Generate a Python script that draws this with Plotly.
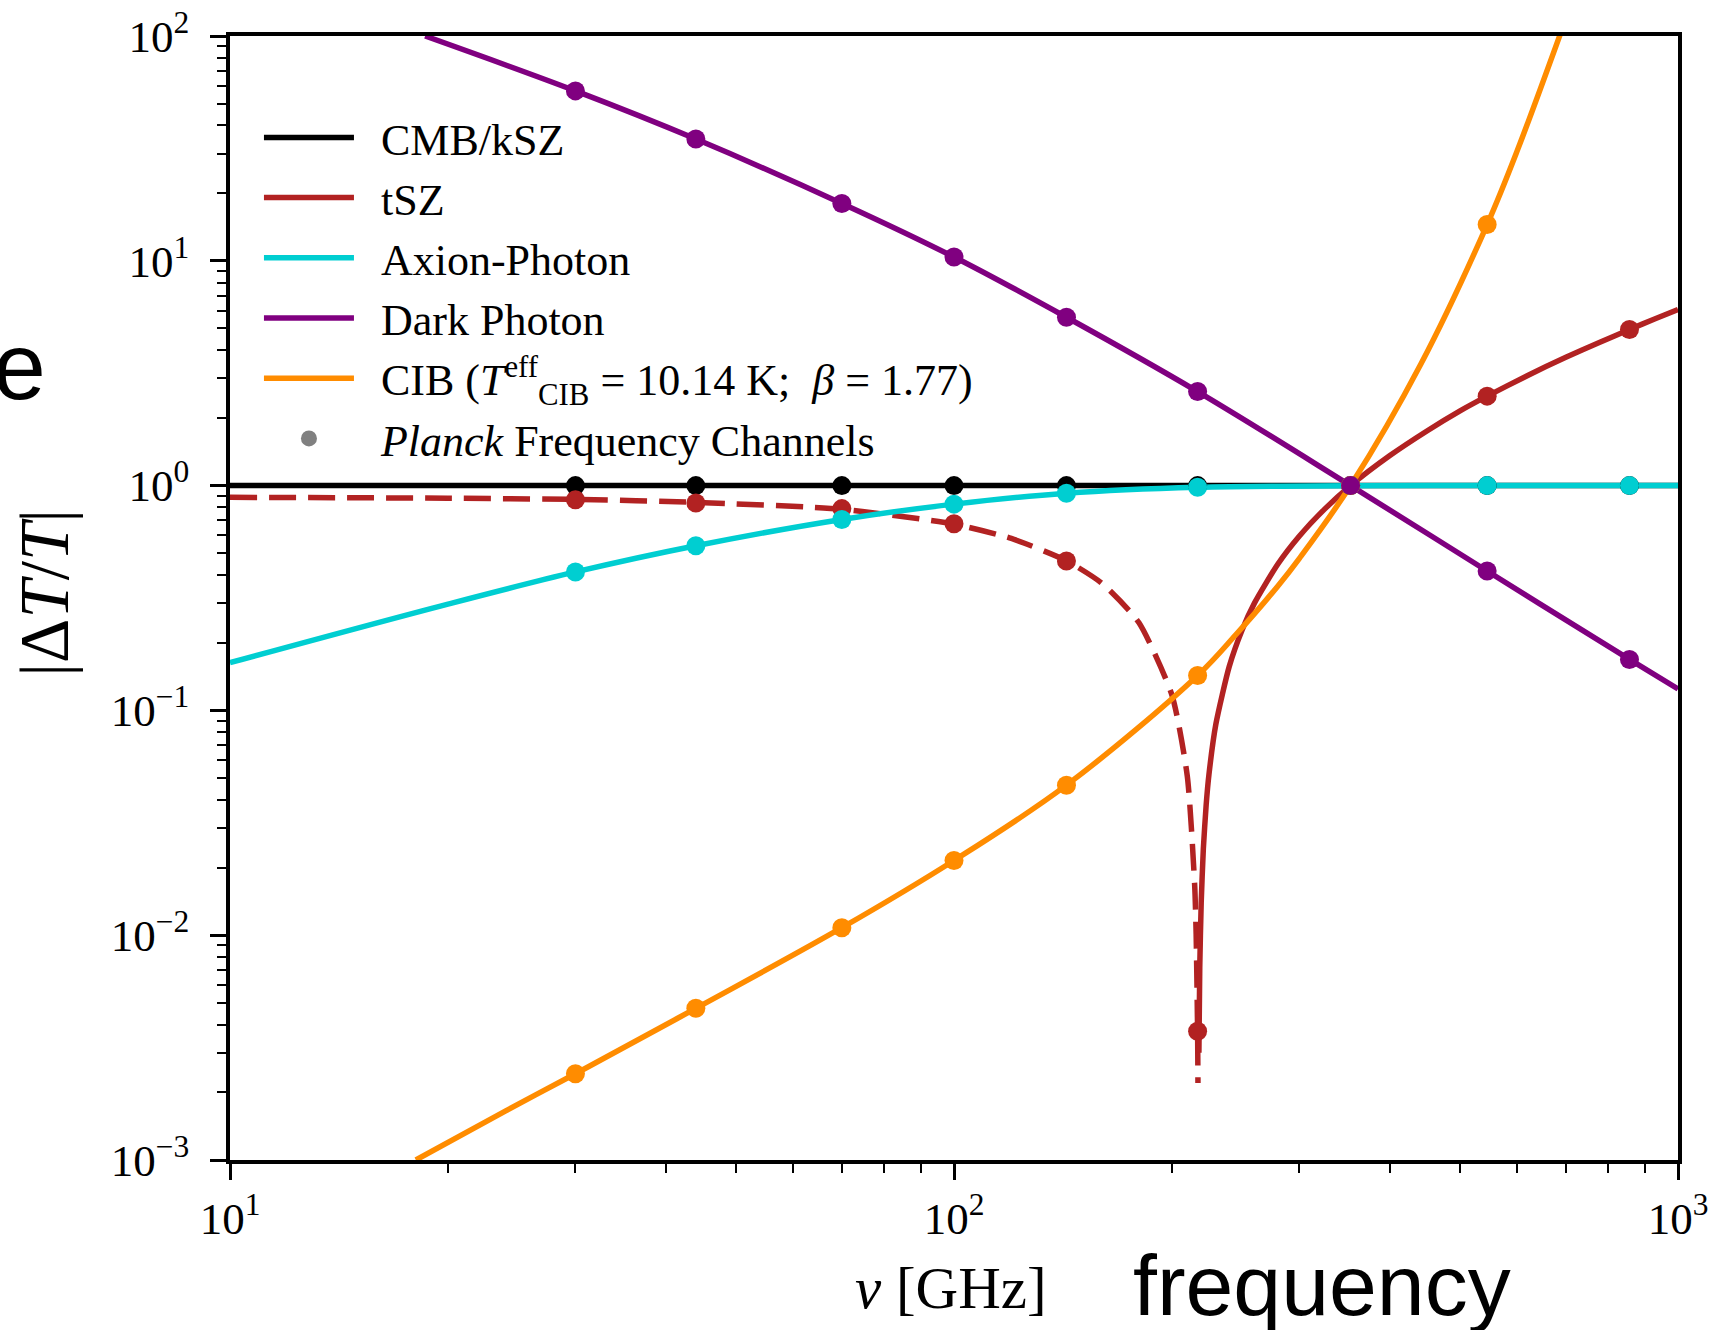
import plotly.graph_objects as go

# ---------------- data ----------------
nu_planck = [30, 44, 70, 100, 143, 217, 353, 545, 857]
cmb_planck = [1.0, 1.0, 1.0, 1.0, 1.0, 1.0, 1.0, 1.0, 1.0]
tsz_planck = [0.865, 0.836, 0.79, 0.676, 0.462, 0.00374, 1.0, 2.5, 4.95]
axion_planck = [0.413, 0.54, 0.707, 0.827, 0.925, 0.983, 1.0, 1.0, 1.0]
dark_planck = [57.0, 34.8, 18.0, 10.4, 5.61, 2.62, 1.0, 0.417, 0.1685]
cib_planck = [0.00242, 0.00473, 0.0108, 0.0215, 0.0465, 0.143, 1.0, 14.5, None]

cmb_nu = [10, 1000]
cmb_val = [1.0, 1.0]

tsz_neg_nu = [10, 20, 30, 44, 70, 100, 120, 143, 160, 180, 200, 210, 215, 216, 217, 217.25]
tsz_neg_val = [0.887, 0.879, 0.868, 0.842, 0.785, 0.674, 0.582, 0.463, 0.368, 0.246,
               0.117, 0.051, 0.0166, 0.0101, 0.0037, 0.0022]

tsz_pos_nu = [217.9, 218.5, 219.5, 221, 223, 225, 230, 240, 250, 260, 280, 300, 325,
              353, 400, 450, 500, 545, 620, 700, 780, 857, 930, 1000]
tsz_pos_val = [0.003, 0.0072, 0.0139, 0.0242, 0.038, 0.052, 0.087, 0.157, 0.228, 0.30,
               0.447, 0.597, 0.786, 1.0, 1.36, 1.75, 2.15, 2.5, 3.09, 3.72, 4.34, 4.95,
               5.52, 6.07]

axion_nu = [10, 20, 30, 44, 70, 100, 143, 217, 353, 545, 857, 1000]
axion_val = [0.163, 0.297, 0.413, 0.54, 0.707, 0.827, 0.925, 0.983, 0.998, 1.0, 1.0, 1.0]

dark_nu = [18.6, 30, 44, 70, 100, 143, 217, 353, 545, 857, 1000]
dark_val = [100.0, 57.0, 34.8, 18.0, 10.4, 5.61, 2.62, 1.0, 0.417, 0.1685, 0.1245]

cib_nu = [18.06, 24, 30, 44, 70, 100, 143, 217, 245, 280, 300, 353, 442, 545, 600, 690]
cib_val = [0.001, 0.00165, 0.00242, 0.00473, 0.0108, 0.0215, 0.0465, 0.143, 0.217,
           0.357, 0.475, 1.0, 3.5, 14.5, 31.0, 105.0]

x_tickvals = [10, 100, 1000]
x_ticktext = ["10<sup>1</sup>", "10<sup>2</sup>", "10<sup>3</sup>"]
y_tickvals = [1e-3, 1e-2, 1e-1, 1e0, 1e1, 1e2]
y_ticktext = ["10<sup>\u22123</sup>", "10<sup>\u22122</sup>", "10<sup>\u22121</sup>",
              "10<sup>0</sup>", "10<sup>1</sup>", "10<sup>2</sup>"]

GAP = "\u00a0\u00a0"
labels = [GAP + "CMB/kSZ", GAP + "tSZ", GAP + "Axion-Photon", GAP + "Dark Photon",
          GAP + "CIB (<i>T</i><sup>eff</sup><sub>CIB</sub> = 10.14 K;  <i>\u03b2</i> = 1.77)",
          GAP + "<i>Planck</i> Frequency Channels"]

C_CMB = "#000000"
C_TSZ = "#b22222"
C_AX = "#00ced1"
C_DP = "#800080"
C_CIB = "#ff8c00"
C_PL = "#808080"

SERIF = "Liberation Serif"
LW = 5.5
MS = 19

fig = go.Figure()

# lines
fig.add_trace(go.Scatter(x=cmb_nu, y=cmb_val, mode="lines", name=labels[0],
                         line=dict(color=C_CMB, width=LW), legendrank=1, legendgroup="a"))
fig.add_trace(go.Scatter(x=tsz_neg_nu, y=tsz_neg_val, mode="lines", showlegend=False,
                         line=dict(color=C_TSZ, width=LW, dash="27px,12px",
                                   shape="spline", smoothing=0.6)))
fig.add_trace(go.Scatter(x=tsz_pos_nu, y=tsz_pos_val, mode="lines", name=labels[1],
                         line=dict(color=C_TSZ, width=LW, shape="spline", smoothing=0.6),
                         legendrank=2, legendgroup="b"))
fig.add_trace(go.Scatter(x=axion_nu, y=axion_val, mode="lines", name=labels[2],
                         line=dict(color=C_AX, width=LW, shape="spline"), legendrank=3,
                         legendgroup="c"))
fig.add_trace(go.Scatter(x=dark_nu, y=dark_val, mode="lines", name=labels[3],
                         line=dict(color=C_DP, width=LW, shape="spline"), legendrank=4,
                         legendgroup="d"))
fig.add_trace(go.Scatter(x=cib_nu, y=cib_val, mode="lines", name=labels[4],
                         line=dict(color=C_CIB, width=LW, shape="spline"), legendrank=5,
                         legendgroup="e"))
fig.add_trace(go.Scatter(x=[None], y=[None], mode="markers", name=labels[5],
                         marker=dict(color=C_PL, size=MS - 3), legendrank=6, legendgroup="f"))

# Planck channel markers
for vals, col in [(cmb_planck, C_CMB), (tsz_planck, C_TSZ), (axion_planck, C_AX),
                  (cib_planck, C_CIB), (dark_planck, C_DP)]:
    fig.add_trace(go.Scatter(x=nu_planck, y=vals, mode="markers", showlegend=False,
                             marker=dict(color=col, size=MS, line=dict(width=0))))

axis_common = dict(
    type="log", showgrid=False, zeroline=False, showline=True, linewidth=3.5,
    linecolor="black", mirror=True, ticks="outside", ticklen=16, tickwidth=2.5,
    tickcolor="black", tickfont=dict(family=SERIF, size=45, color="black"),
    automargin=False,
)

fig.update_xaxes(**axis_common, range=[1, 3], tickvals=x_tickvals, ticktext=x_ticktext,
                 ticklabelstandoff=0,
                 minor=dict(ticks="outside", ticklen=9, tickwidth=2, tickcolor="black",
                            tickvals=[20, 30, 40, 50, 60, 70, 80, 90,
                                      200, 300, 400, 500, 600, 700, 800, 900]))
fig.update_yaxes(**axis_common, range=[-3, 2], tickvals=y_tickvals, ticktext=y_ticktext,
                 ticklabelstandoff=12,
                 minor=dict(ticks="outside", ticklen=9, tickwidth=2, tickcolor="black",
                            tickvals=[a * b for b in [1e-3, 1e-2, 1e-1, 1, 10]
                                      for a in range(2, 10)]))

fig.update_layout(
    width=1714, height=1330, autosize=False,
    margin=dict(l=230, r=36, t=36, b=170),
    paper_bgcolor="white", plot_bgcolor="white",
    legend=dict(x=0.02, y=0.941, xanchor="left", yanchor="top",
                font=dict(family=SERIF, size=44, color="black"),
                bgcolor="rgba(0,0,0,0)", borderwidth=0, itemwidth=90,
                traceorder="grouped", tracegroupgap=0, itemsizing="trace"),
    annotations=[
        dict(text="|\u0394<i>T</i>/<i>T</i>|", xref="paper", yref="paper",
             x=-0.1275, y=0.505, xanchor="center", yanchor="middle",
             textangle=-90, showarrow=False,
             font=dict(family=SERIF, size=69, color="black")),
        dict(text="<i>\u03bd</i> [GHz]", xref="paper", yref="paper",
             x=0.498, y=-0.114, xanchor="center", yanchor="middle", showarrow=False,
             font=dict(family=SERIF, size=59, color="black")),
        dict(text="frequency", xref="paper", yref="paper",
             x=0.754, y=-0.156, xanchor="center", yanchor="bottom", showarrow=False,
             font=dict(family="Liberation Sans", size=86, color="black")),
        dict(text="e", xref="paper", yref="paper", xanchor="right", yanchor="middle",
             x=-0.126, y=0.706, showarrow=False,
             font=dict(family="Liberation Sans", size=95, color="black")),
    ],
)

fig.write_html("out.html")
